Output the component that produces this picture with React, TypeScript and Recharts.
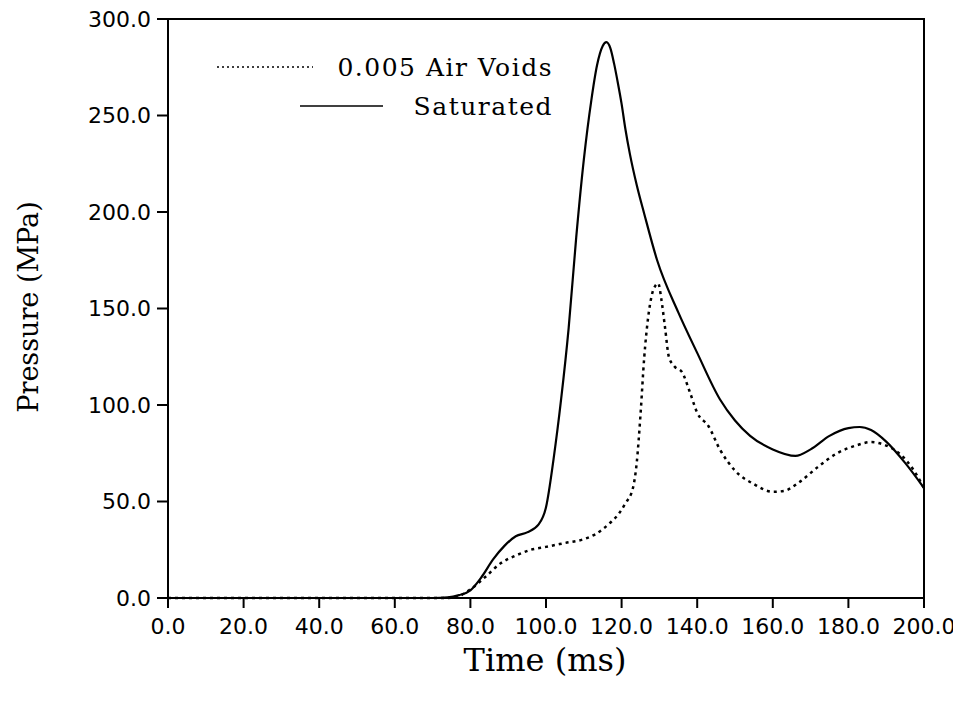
import { LineChart, Line, XAxis, YAxis, ReferenceArea, Legend } from "recharts";

const xTicks = [0, 20, 40, 60, 80, 100, 120, 140, 160, 180, 200];
const yTicks = [0, 50, 100, 150, 200, 250, 300];

const timeSaturated = [
  0, 70, 74, 77, 80, 83, 86, 89, 92, 95, 98, 100, 102, 104, 106, 108, 110, 112,
  113.5, 115, 116, 117, 118, 119, 120, 121, 122.2, 124, 126, 129.4, 135, 140, 146, 150,
  154, 160, 166, 170, 175, 180, 183, 186, 190, 195, 200,
];
const pressureSaturated = [
  0, 0, 0.3, 1.5, 4, 11, 20, 27, 32, 34, 38, 47, 72, 103, 140, 187, 227, 258,
  276, 286, 288, 285, 277, 267, 256, 243, 230, 214, 199, 175, 148, 127, 103, 92,
  84, 77, 73.6, 77, 84, 88, 88.6, 87, 81, 70, 57,
];

const timeVoids = [
  0, 74, 77, 80, 84, 88, 92, 96, 100, 105, 110, 113, 117, 119, 121, 123, 124,
  125, 126, 127, 128, 129, 129.7, 130.5, 131.5, 132.5, 134, 136, 138, 140, 143,
  146, 150, 155, 160, 163, 167, 172, 177, 182, 186, 190, 194, 197, 200,
];
const pressureVoids = [
  0, 0, 1, 4.5, 11, 18, 22, 25, 26.5, 28.5, 30.5, 33, 39, 43, 49, 57, 70,
  95, 125, 145, 157, 162, 163, 155, 140, 125, 120, 117, 107, 96, 89,
  77, 66, 59, 55, 55.5, 60, 68, 75, 79, 80.8, 79, 74, 67, 57,
];

const saturated = timeSaturated.map((t, i) => ({ t, p: pressureSaturated[i] }));
const voids = timeVoids.map((t, i) => ({ t, p: pressureVoids[i] }));

const tickFont = { fontFamily: "DejaVu Sans", fontSize: 22, fill: "#000" };
const legendFont = { fontFamily: "DejaVu Serif", fontSize: 25, fill: "#000", letterSpacing: 1.5 };
const titleFont = "DejaVu Serif";

function LegendBox() {
  return (
    <svg width={360} height={80} style={{ overflow: "visible" }}>
      <line x1={0} x2={96} y1={17} y2={17} stroke="#000" strokeWidth={1.5} strokeDasharray="2 3" />
      <text x={336} y={17} textAnchor="end" dominantBaseline="central" style={legendFont}>
        0.005 Air Voids
      </text>
      <line x1={83} x2={166} y1={56} y2={56} stroke="#000" strokeWidth={1.5} />
      <text x={336} y={56} textAnchor="end" dominantBaseline="central" style={legendFont}>
        Saturated
      </text>
    </svg>
  );
}

export default function App() {
  return (
    <LineChart width={953} height={696} margin={{ top: 11, right: 37, left: 0, bottom: 0 }}>
      <XAxis
        type="number"
        dataKey="t"
        domain={[0, 200]}
        ticks={xTicks}
        tickFormatter={(v) => v.toFixed(1)}
        tick={tickFont}
        tickSize={10}
        tickMargin={10}
        height={106}
        interval={0}
        stroke="#000"
        strokeWidth={2}
        allowDuplicatedCategory={false}
        label={{
          content: () => (
            <text x={537} y={652} textAnchor="middle" dominantBaseline="central"
              style={{ fontFamily: titleFont, fontSize: 32, fill: "#000" }}>
              Time (ms)
            </text>
          ),
        }}
      />
      <YAxis
        type="number"
        dataKey="p"
        domain={[0, 300]}
        ticks={yTicks}
        tickFormatter={(v) => v.toFixed(1)}
        tick={tickFont}
        tickSize={11}
        tickMargin={6}
        width={160}
        interval={0}
        stroke="#000"
        strokeWidth={2}
        label={{
          content: () => (
            <text x={20} y={299} textAnchor="middle" dominantBaseline="central"
              transform="rotate(-90 20 299)"
              style={{ fontFamily: titleFont, fontSize: 27, fill: "#000" }}>
              Pressure (MPa)
            </text>
          ),
        }}
      />
      <ReferenceArea x1={0} x2={200} y1={0} y2={300} fill="none" stroke="#000" strokeWidth={2} />
      <Legend
        verticalAlign="middle"
        content={() => <LegendBox />}
        wrapperStyle={{ position: "absolute", left: 209, top: 42, width: 360 }}
      />
      <Line
        data={voids}
        dataKey="p"
        type="monotone"
        stroke="#000"
        strokeWidth={2.5}
        strokeDasharray="3 4"
        dot={false}
        isAnimationActive={false}
      />
      <Line
        data={saturated}
        dataKey="p"
        type="monotone"
        stroke="#000"
        strokeWidth={2.2}
        dot={false}
        isAnimationActive={false}
      />
    </LineChart>
  );
}
